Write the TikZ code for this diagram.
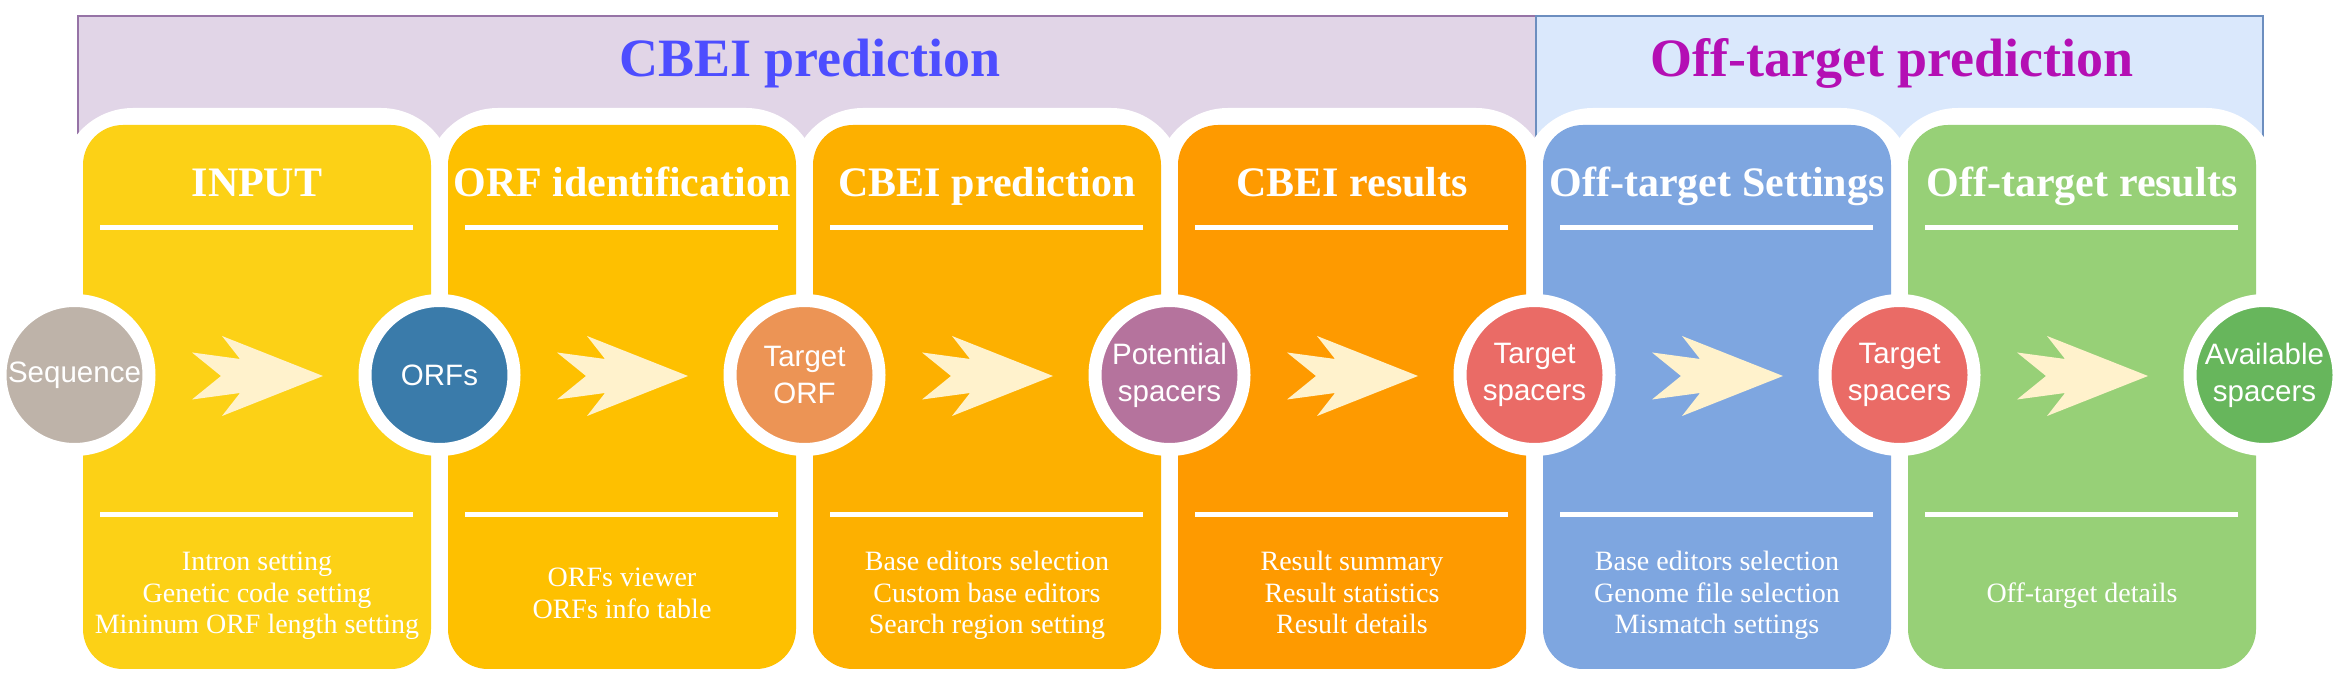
\documentclass[tikz,border=0pt]{standalone}
\usepackage{fontspec}
\setmainfont{Liberation Serif}
\newfontfamily\arialfont{Liberation Sans}
\usetikzlibrary{calc}
\definecolor{bannerAfill}{HTML}{E1D5E7}
\definecolor{bannerAline}{HTML}{9673A6}
\definecolor{bannerBfill}{HTML}{DAE8FC}
\definecolor{bannerBline}{HTML}{6C8EBF}
\definecolor{titleA}{HTML}{4D4DFF}
\definecolor{titleB}{HTML}{B40FB4}
\definecolor{panA}{HTML}{FCD116}
\definecolor{panB}{HTML}{FEC000}
\definecolor{panC}{HTML}{FDB000}
\definecolor{panD}{HTML}{FE9A00}
\definecolor{panE}{HTML}{7EA6E0}
\definecolor{panF}{HTML}{97D077}
\definecolor{cirA}{HTML}{BEB3A9}
\definecolor{cirB}{HTML}{3A7BAA}
\definecolor{cirC}{HTML}{EC9455}
\definecolor{cirD}{HTML}{B5739D}
\definecolor{cirE}{HTML}{EA6B66}
\definecolor{cirF}{HTML}{67B65C}
\definecolor{arrowc}{HTML}{FFF2CC}
\begin{document}
\begin{tikzpicture}[x=0.5pt,y=-0.5pt,
  banner/.style={draw, line width=1.25pt, minimum height=67pt, inner sep=0pt},
  bantitle/.style={font=\bfseries\fontsize{27pt}{30pt}\selectfont, anchor=base, inner sep=0pt},
  panel/.style={rounded corners=20pt, minimum width=174pt, minimum height=272pt, inner sep=0pt, draw=none},
  ptitle/.style={font=\bfseries\fontsize{21pt}{24pt}\selectfont, text=white, anchor=base, inner sep=0pt},
  pdesc/.style={font=\fontsize{14pt}{15.75pt}\selectfont, text=white, align=center, inner sep=0pt},
  rulex/.style={white, line width=2.5pt},
  stage/.style={circle, draw=white, line width=6.5pt, minimum size=74.5pt, inner sep=0pt, text=white, align=center, font=\arialfont\fontsize{14.75pt}{18.5pt}\selectfont},
  chev/.style={fill=arrowc}
]
\useasboundingbox (0,0) rectangle (2351,694);
\fill[white] (0,0) rectangle (2351,694);

% banners
\node[banner, draw=bannerAline, fill=bannerAfill, minimum width=729pt] (banA) at (807,83) {};
\node[banner, draw=bannerBline, fill=bannerBfill, minimum width=363.5pt] (banB) at (1899.5,83) {};
\node[bantitle, text=titleA] (tA) at (810,77) {CBEI prediction};
\node[bantitle, text=titleB] (tB) at (1892,77) {Off-target prediction};

% white outlines of panels
\foreach \i in {0,...,5}{
  \fill[white, rounded corners=36pt] (61+365*\i,108) rectangle (453+365*\i,690);
}

% panels
\foreach \i/\c/\n in {0/panA/pA,1/panB/pB,2/panC/pC,3/panD/pD,4/panE/pE,5/panF/pF}{
  \node[panel, fill=\c] (\n) at (257+365*\i,397) {};
  \draw[rulex] (100+365*\i,227.5) -- (413+365*\i,227.5);
  \draw[rulex] (100+365*\i,514.5) -- (413+365*\i,514.5);
}

% panel titles
\node[ptitle] (hA) at (257,197) {INPUT};
\node[ptitle] (hB) at (622,197) {ORF identification};
\node[ptitle] (hC) at (987,197) {CBEI prediction};
\node[ptitle] (hD) at (1352,197) {CBEI results};
\node[ptitle] (hE) at (1717,197) {Off-target Settings};
\node[ptitle] (hF) at (2082,197) {Off-target results};

% panel descriptions
\node[pdesc] (dA) at (257,596) {\strut Intron setting\\\strut Genetic code setting\\\strut Mininum ORF length setting};
\node[pdesc] (dB) at (622,596) {\strut ORFs viewer\\\strut ORFs info table};
\node[pdesc] (dC) at (987,596) {\strut Base editors selection\\\strut Custom base editors\\\strut Search region setting};
\node[pdesc] (dD) at (1352,596) {\strut Result summary\\\strut Result statistics\\\strut Result details};
\node[pdesc] (dE) at (1717,596) {\strut Base editors selection\\\strut Genome file selection\\\strut Mismatch settings};
\node[pdesc] (dF) at (2082,596) {\strut Off-target details};

% stage circles
\node[stage, fill=cirA] (s0) at (74.5,375) {Sequence};
\node[stage, fill=cirB] (s1) at (439.5,375) {ORFs};
\node[stage, fill=cirC] (s2) at (804.5,375) {Target\\ORF};
\node[stage, fill=cirD] (s3) at (1169.5,375) {Potential\\spacers};
\node[stage, fill=cirE] (s4) at (1534.5,375) {Target\\spacers};
\node[stage, fill=cirE] (s5) at (1899.5,375) {Target\\spacers};
\node[stage, fill=cirF] (s6) at (2264.5,375) {Available\\spacers};

% chevron arrows between stages
\foreach \a/\b in {s0/s1,s1/s2,s2/s3,s3/s4,s4/s5,s5/s6}{
  \coordinate (m-\a) at ($(\a)!0.5!(\b)+(0,1)$);
  \fill[chev, shift={(m-\a)}] (66,0) -- (-35,-40) -- (-17,-17) -- (-65,-23.5) -- (-36,0)
    -- (-65,23.5) -- (-17,17) -- (-35,40) -- cycle;
}
\end{tikzpicture}
\end{document}
